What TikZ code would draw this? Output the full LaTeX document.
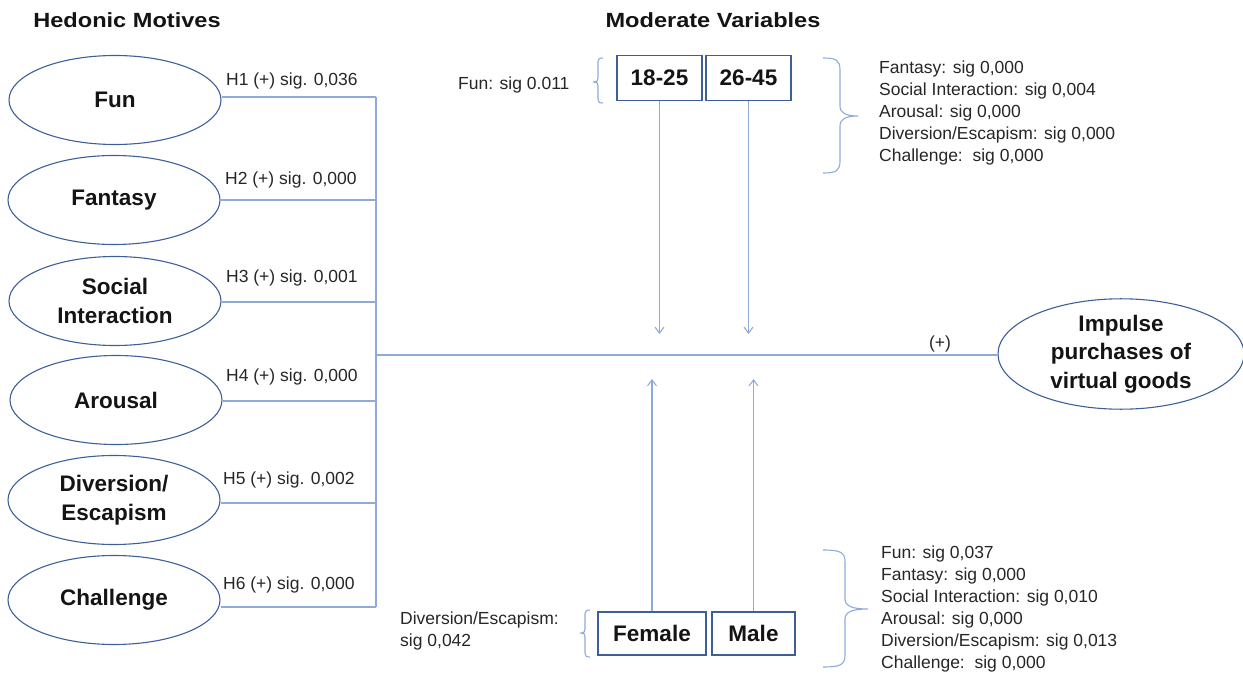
\documentclass[tikz,border=0pt]{standalone}
\usepackage{fontspec}
\setmainfont{Liberation Sans}
\usetikzlibrary{shapes.geometric,arrows.meta}
\definecolor{edgeblue}{HTML}{3D5F99}
\definecolor{linkblue}{HTML}{8EAADB}
\definecolor{ink}{HTML}{141414}
\definecolor{greyink}{HTML}{262626}
\begin{document}
\begin{tikzpicture}[x=1pt,y=-1pt,
 motive/.style={ellipse,draw=edgeblue,line width=1.1pt,minimum width=212pt,minimum height=89pt,inner sep=0pt,align=center,font=\fontsize{22.5}{28.5}\selectfont\bfseries,text=ink},
 groupbox/.style={rectangle,draw=edgeblue,line width=1.3pt,minimum height=45pt,inner sep=0pt,font=\fontsize{22.5}{27}\selectfont\bfseries,text=ink},
 small/.style={font=\fontsize{17.5}{22}\selectfont,text=greyink,inner sep=0pt,align=left},
 title/.style={font=\fontsize{20.5}{24}\selectfont\bfseries,text=ink,inner sep=0pt},
 link/.style={draw=linkblue,line width=1.1pt},
 modarrow/.style={link,-{Straight Barb[length=6pt,width=9pt]}},
 bracestyle/.style={draw=linkblue,line width=1.1pt},
]
\useasboundingbox (0,0) rectangle (1243,679);

% titles
\node[title] (t1) at (127,20) {\scalebox{1.15}[1]{Hedonic Motives}};
\node[title] (t2) at (713,20) {\scalebox{1.15}[1]{Moderate Variables}};

% hedonic motives
\node[motive] (fun) at (115,100) {Fun};
\node[motive] (fantasy) at (114,200) {Fantasy};
\node[motive] (social) at (115,301) {Social\\Interaction};
\node[motive] (arousal) at (116,400) {Arousal};
\node[motive] (diversion) at (114,500) {Diversion/\\Escapism};
\node[motive] (challenge) at (114,600) {Challenge};

% bus
\coordinate (b1) at (376,97);
\coordinate (b2) at (376,200);
\coordinate (b3) at (376,302);
\coordinate (b4) at (376,401);
\coordinate (b5) at (376,503);
\coordinate (b6) at (376,607);
\coordinate (bm) at (376,355);

\draw[link] (fun.east |- b1) -- (b1);
\draw[link] (fantasy.east |- b2) -- (b2);
\draw[link] (social.east |- b3) -- (b3);
\draw[link] (arousal.east |- b4) -- (b4);
\draw[link] (diversion.east |- b5) -- (b5);
\draw[link] (challenge.east |- b6) -- (b6);
\draw[link] (b1) -- (b6);

\node[small,anchor=west] (h1) at (226,81) {H1 (+) sig. 0,036};
\node[small,anchor=west] (h2) at (225,180) {H2 (+) sig. 0,000};
\node[small,anchor=west] (h3) at (226,278) {H3 (+) sig. 0,001};
\node[small,anchor=west] (h4) at (226,377) {H4 (+) sig. 0,000};
\node[small,anchor=west] (h5) at (223,480) {H5 (+) sig. 0,002};
\node[small,anchor=west] (h6) at (223,585) {H6 (+) sig. 0,000};

% outcome
\node[motive,minimum width=246pt,minimum height=102pt] (impulse) at (1121,354) {Impulse\\purchases of\\virtual goods};
\draw[link] (bm) -- (bm -| impulse.west);
\node[small] (plus) at (940,344) {(+)};

% moderators
\node[groupbox,minimum width=85pt] (g1) at (659.5,78) {18-25};
\node[groupbox,minimum width=85pt] (g2) at (748.5,78) {26-45};
\node[groupbox,minimum width=108pt,minimum height=43pt] (female) at (652,633.5) {Female};
\node[groupbox,minimum width=83pt,minimum height=43pt] (male) at (753.5,633.5) {Male};

\coordinate (a1) at (659.5,334);
\coordinate (a2) at (748.5,334);
\coordinate (a3) at (652,379);
\coordinate (a4) at (753.5,379);
\draw[modarrow] (g1) -- (a1);
\draw[modarrow] (g2) -- (a2);
\draw[modarrow] (female) -- (a3);
\draw[modarrow] (male) -- (a4);

% braces
\draw[bracestyle] (603,58) .. controls (599,58) and (598,59) .. (598,62) -- (598,78) .. controls (598,81) and (597,82) .. (594,82) .. controls (597,82) and (598,83) .. (598,86) -- (598,99) .. controls (598,102) and (599,103) .. (603,103);
\draw[bracestyle] (823,58) .. controls (836,58) and (840,60) .. (840,70) -- (840,106) .. controls (840,113) and (846,116) .. (858,116) .. controls (846,116) and (840,119) .. (840,126) -- (840,161) .. controls (840,171) and (836,173) .. (823,173);
\draw[bracestyle] (823,550) .. controls (840,550) and (845,552) .. (845,562) -- (845,599) .. controls (845,606) and (852,609) .. (868,609) .. controls (852,609) and (845,612) .. (845,619) -- (845,655) .. controls (845,665) and (840,667) .. (823,667);
\draw[bracestyle] (590,610) .. controls (586,610) and (585,611) .. (585,614) -- (585,629) .. controls (585,632) and (584,633) .. (581,633) .. controls (584,633) and (585,634) .. (585,637) -- (585,653) .. controls (585,656) and (586,657) .. (590,657);

% moderator results
\node[small,anchor=west] (funmod) at (458,85) {Fun: sig 0.011};
\node[small,anchor=west] (divmod) at (400,631) {Diversion/Escapism:\\sig 0,042};
\node[small,anchor=west] (agelist) at (879,113) {Fantasy: sig 0,000\\Social Interaction: sig 0,004\\Arousal: sig 0,000\\Diversion/Escapism: sig 0,000\\Challenge:\ \ sig 0,000};
\node[small,anchor=west] (genderlist) at (881,609) {Fun: sig 0,037\\Fantasy: sig 0,000\\Social Interaction: sig 0,010\\Arousal: sig 0,000\\Diversion/Escapism: sig 0,013\\Challenge:\ \ sig 0,000};
\end{tikzpicture}
\end{document}
